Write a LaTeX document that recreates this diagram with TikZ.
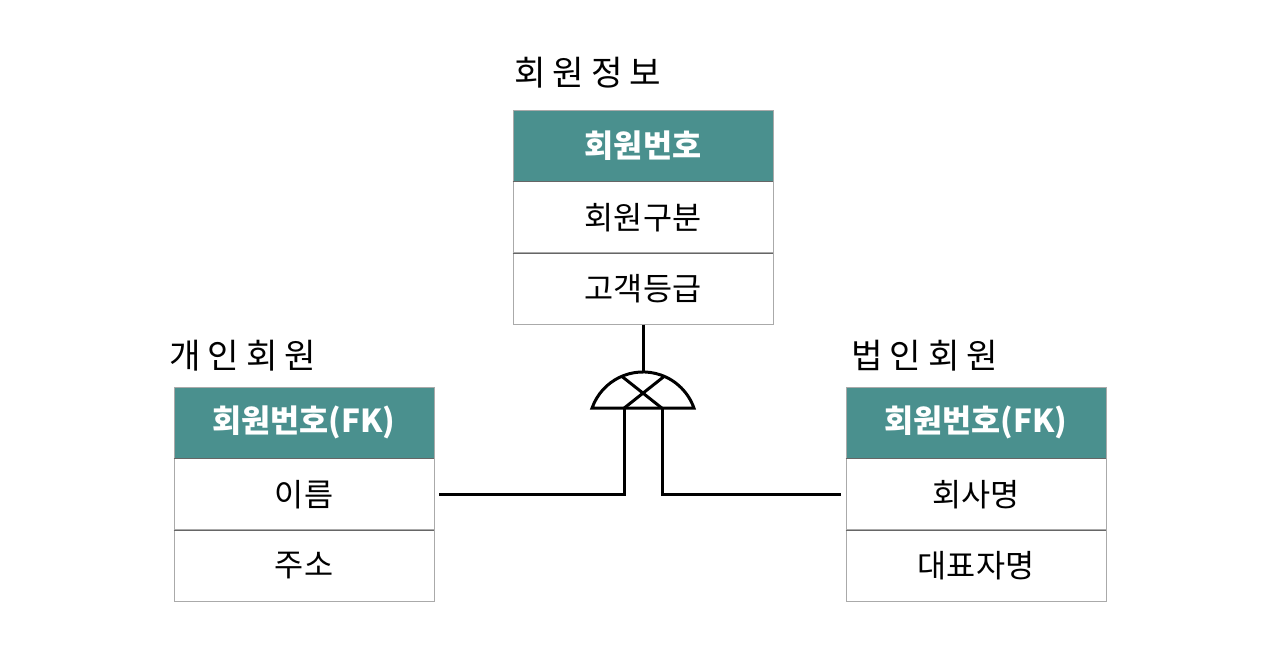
\documentclass[tikz,border=0pt]{standalone}
\usepackage{fontspec}
\setmainfont{Noto Sans CJK KR}
\newfontfamily\titlefont[LetterSpace=20]{Noto Sans CJK KR}
\usetikzlibrary{positioning, calc}
\definecolor{headteal}{HTML}{4A908E}
\definecolor{boxgray}{HTML}{AAAAAA}
\definecolor{sepgray}{HTML}{666666}
\tikzstyle{header} = [rectangle, minimum width=5.2cm, minimum height=1.42cm, inner sep=0pt, fill=headteal, draw=boxgray, text=white, font=\bfseries\fontsize{18}{20}\selectfont]
\tikzstyle{field} = [rectangle, minimum width=5.2cm, minimum height=1.42cm, inner sep=0pt, fill=white, draw=boxgray, font=\fontsize{18}{20}\selectfont]
\tikzstyle{title} = [anchor=west, inner sep=0pt, font=\titlefont\fontsize{19.5}{22}\selectfont]
\tikzstyle{sep} = [draw=sepgray, line width=0.6pt]
\tikzstyle{line} = [line width=1.7pt]

\begin{document}
\begin{tikzpicture}[x=0.02cm, y=-0.02cm]
  \useasboundingbox (0,0) rectangle (1288,666);
  % 회원정보
  \node (title1) [title] at (514,73) {회원정보};
  \node (key1) [header] at (643,145.5) {회원번호};
  \node (f11) [field, below=0pt of key1] {회원구분};
  \node (f12) [field, below=0pt of f11] {고객등급};

  % 개인회원
  \node (title2) [title] at (169,356) {개인회원};
  \node (key2) [header] at (304,422.5) {회원번호(FK)};
  \node (f21) [field, below=0pt of key2] {이름};
  \node (f22) [field, below=0pt of f21] {주소};

  % 법인회원
  \node (title3) [title] at (851,356) {법인회원};
  \node (key3) [header] at (976,422.5) {회원번호(FK)};
  \node (f31) [field, below=0pt of key3] {회사명};
  \node (f32) [field, below=0pt of f31] {대표자명};

  % 구분선
  \draw [sep](key1.south west) -- (key1.south east);
  \draw [sep](f11.south west) -- (f11.south east);
  \draw [sep](key2.south west) -- (key2.south east);
  \draw [sep](f21.south west) -- (f21.south east);
  \draw [sep](key3.south west) -- (key3.south east);
  \draw [sep](f31.south west) -- (f31.south east);

  % 서브타입 기호
  \coordinate (subtop) at (643,372);
  \coordinate (subleft) at (592,408.2);
  \coordinate (subright) at (694,408.2);
  \coordinate (legL) at (624,408.2);
  \coordinate (legR) at (662,408.2);
  \draw [line](f12.south) -- (subtop);
  \draw [line](subleft) arc[start angle=-160.8, end angle=-19.2, radius=54] -- cycle;
  \draw [line](622,376.5) -- (legR);
  \draw [line](664,376.5) -- (legL);
  \draw [line](legL) |- ($(f21.east) + (5,0)$);
  \draw [line](legR) |- ($(f31.west) + (-5,0)$);
\end{tikzpicture}
\end{document}
